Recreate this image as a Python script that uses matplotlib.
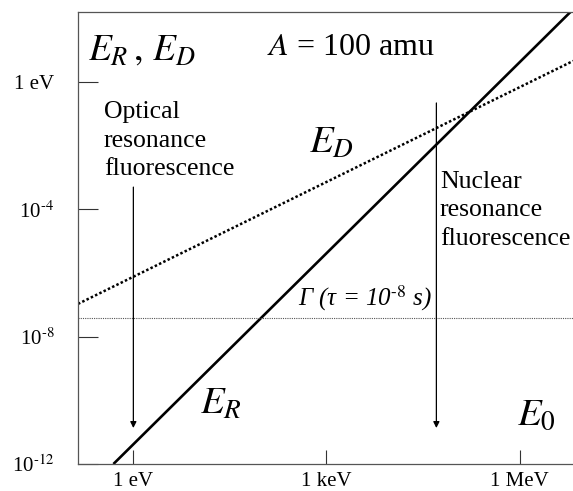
"""
Recoil energy E_R and Doppler width E_D vs photon energy E_0 (A = 100 amu).
"""
import matplotlib
matplotlib.use("Agg")
import matplotlib.pyplot as plt

# (log-log)
er_energy = [0.49, 7.9e6]          # eV
er_value = [1.0e-12, 2.6e2]        # eV
ed_energy = [0.138, 6.8e6]
ed_value = [1.07e-7, 4.6]
gamma_width = 3.8e-8               # eV, tau = 1e-8 s
optical_arrow = (1.0, 5.0e-4, 1.35e-11)     # x, y_start, y_end
nuclear_arrow = (5.1e4, 0.22, 1.35e-11)

x_ticks = [1.0, 1.0e3, 1.0e6]
x_tick_labels = ["1 eV", "1 keV", "1 MeV"]
y_ticks = [1.0e-12, 1.0e-8, 1.0e-4, 1.0]
y_tick_labels = [r"10$^{\text{-12}}$", r"10$^{\text{-8}}$", r"10$^{\text{-4}}$", "1 eV"]

plt.rcParams["font.family"] = ["Liberation Serif", "DejaVu Serif"]
plt.rcParams["mathtext.fontset"] = "stix"

W, H = 573, 491
fig = plt.figure(figsize=(W / 100, H / 100), dpi=100)
ax = fig.add_axes([78 / W, (H - 464) / H, (573 - 78) / W, (464 - 12) / H])

ax.set_xscale("log")
ax.set_yscale("log")
ax.set_xlim(10 ** -0.86, 10 ** 6.83)
ax.set_ylim(1e-12, 10 ** 2.2)

ax.plot(er_energy, er_value, color="black", linewidth=1.9, solid_capstyle="butt")
ax.plot(ed_energy, ed_value, color="black", linewidth=1.8, linestyle=(0, (1, 0.9)))
ax.axhline(gamma_width, color="#555555", linewidth=0.8, linestyle=(0, (1, 1)))

for x, y0, y1 in (optical_arrow, nuclear_arrow):
    ax.annotate("", xy=(x, y1), xytext=(x, y0),
                arrowprops=dict(arrowstyle="-|>", color="black", lw=0.9,
                                mutation_scale=9, shrinkA=0, shrinkB=0))

ax.minorticks_off()
ax.set_xticks(x_ticks)
ax.set_xticklabels(x_tick_labels)
ax.set_yticks(y_ticks)
ax.set_yticklabels(y_tick_labels)
ax.tick_params(axis="x", direction="in", length=10, width=0.8, pad=6,
               labelsize=15, color="#333333")
ax.tick_params(axis="y", direction="in", length=14.5, width=0.8, pad=17,
               labelsize=15, color="#333333")
ax.spines["right"].set_visible(False)
for side in ("left", "bottom", "top"):
    ax.spines[side].set_color("#555555")
    ax.spines[side].set_linewidth(0.9)

tr = ax.transAxes
ax.text(0.02, 0.915, r"$E_R\,,\,E_D$", transform=tr, fontsize=27, va="center")
ax.text(0.382, 0.922, r"$A$ = 100 amu", transform=tr, fontsize=23, va="center")
# multi-line baseline = baseline of the last line
ax.text(0.0525, 0.639, "Optical\nresonance\nfluorescence", transform=tr,
        fontsize=18.5, va="baseline", linespacing=1.38)
ax.text(0.731, 0.485, "Nuclear\nresonance\nfluorescence", transform=tr,
        fontsize=18.5, va="baseline", linespacing=1.38)
ax.text(0.466, 0.688, r"$E_D$", transform=tr, fontsize=28, va="baseline")
ax.text(0.246, 0.111, r"$E_R$", transform=tr, fontsize=28, va="baseline")
ax.text(0.886, 0.086, r"$E_0$", transform=tr, fontsize=28, va="baseline")
ax.text(0.444, 0.350, r"Γ (τ = 10$^{\text{-8}}$ s)", transform=tr,
        fontsize=18, va="baseline", style="italic")

fig.savefig("out.png", dpi=100, facecolor="white")
